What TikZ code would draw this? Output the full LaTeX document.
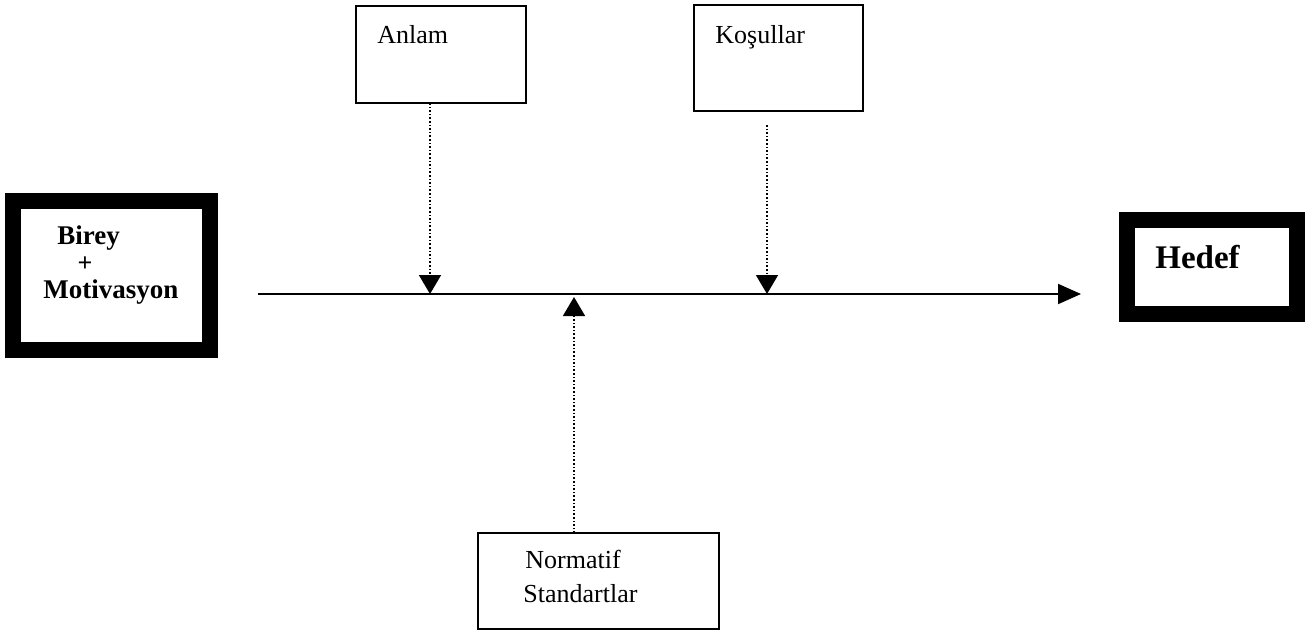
\documentclass[tikz,border=0pt]{standalone}
\usepackage{fontspec}
\setmainfont{Liberation Serif}
\usetikzlibrary{arrows.meta}
\begin{document}
\begin{tikzpicture}[x=0.5pt,y=-0.5pt,
  thickbox/.style={draw=black,line width=8pt,inner sep=0pt,outer sep=0pt},
  thinbox/.style={draw=black,line width=1pt,inner sep=0pt,outer sep=0pt},
  lbl/.style={inner sep=0pt,anchor=base west,font=\fontsize{13}{15}\selectfont},
  blbl/.style={lbl,font=\fontsize{13.5}{15}\selectfont\bfseries},
  influence/.style={densely dotted,line width=0.8pt,
    -{Triangle[width=11pt,length=9.5pt]}},
  mainflow/.style={line width=1pt,-{Triangle[width=10pt,length=11.5pt]}}]
\useasboundingbox (0,0) rectangle (1310,632);

% heavy-framed start and goal boxes
\node[thickbox,minimum width=98.5pt,minimum height=74.5pt] (birey) at (111.5,275.5) {};
\node[thickbox,minimum width=85pt,minimum height=47pt] (hedef) at (1212,267) {};

% thin boxes of the influencing factors
\node[thinbox,minimum width=85pt,minimum height=48.5pt] (anlam) at (441,54.5) {};
\node[thinbox,minimum width=84.5pt,minimum height=53pt] (kosul) at (778.5,58) {};
\node[thinbox,minimum width=120.5pt,minimum height=48pt] (norm) at (598.5,581) {};

% box texts
\node[blbl] (tBirey) at (57,244) {Birey};
\node[inner sep=0pt,anchor=base,font=\fontsize{13}{15}\selectfont\bfseries] (tPlus) at (85,271) {+};
\node[blbl] (tMotiv) at (43,298) {Motivasyon};
\node[lbl,font=\fontsize{16.5}{18}\selectfont\bfseries] (tHedef) at (1155,268) {Hedef};
\node[lbl] (tAnlam) at (377,43) {Anlam};
\node[lbl] (tKosul) at (715,43) {Koşullar};
\node[lbl] (tNorm1) at (525,568) {Normatif};
\node[lbl] (tNorm2) at (523,602) {Standartlar};

% main path and the points where the factors meet it
\coordinate (lineStart) at (258,294);
\coordinate (lineEnd) at (1081,294);
\coordinate (pA) at (430,294);
\coordinate (pK) at (767,294);
\coordinate (pN) at (574,297);
\coordinate (kTop) at (767,125);

\draw[mainflow] (lineStart) -- (lineEnd);
\draw[influence] (anlam.south -| pA) -- (pA);
\draw[influence] (kTop) -- (pK);
\draw[influence] (norm.north -| pN) -- (pN);
\end{tikzpicture}
\end{document}
